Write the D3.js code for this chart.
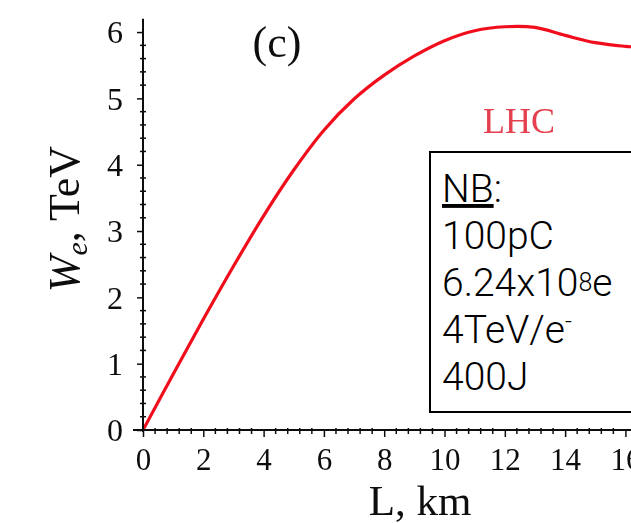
<!DOCTYPE html>
<html>
<head>
<meta charset="utf-8">
<script src="https://cdn.jsdelivr.net/npm/d3@7"></script>
<style>
  html, body { margin: 0; padding: 0; background: #fff; overflow: hidden; }
  svg { display: block; }
</style>
</head>
<body>
<svg id="chart" width="631" height="523"></svg>
<script>
// Accelerated electron energy vs. plasma length (LHC driver)
const distanceKm = [0, 1, 2, 3, 4, 5, 6, 7, 8, 9, 10, 11, 12, 13, 14, 15, 16, 16.5];
const energyTeV  = [0, 0.84, 1.67, 2.47, 3.23, 3.92, 4.52, 4.99, 5.35, 5.64, 5.87, 6.02, 6.08, 6.07, 5.95, 5.84, 5.785, 5.77];

const xTicks = [0, 2, 4, 6, 8, 10, 12, 14, 16];
const yTicks = [0, 1, 2, 3, 4, 5, 6];

const noteLines = ["NB:", "100pC", "6.24x10⁸e", "4TeV/e⁻", "400J"];

const svg = d3.select("#chart");
const W = 631, H = 523;

const x = d3.scaleLinear().domain([0, 16.5]).range([143, 640.5]);
const y = d3.scaleLinear().domain([0, 6.2]).range([430, 18.8]);

const defs = svg.append("defs");
defs.append("filter").attr("id", "soft")
  .attr("x", "-5%").attr("y", "-5%").attr("width", "110%").attr("height", "110%")
  .append("feGaussianBlur").attr("stdDeviation", 0.7);
defs.append("clipPath").attr("id", "plotClip")
  .append("rect").attr("x", 143).attr("y", 0).attr("width", W - 143).attr("height", 431);

const serif = "'Liberation Serif', 'Times New Roman', serif";
const ink = "#111";
const plot = svg.append("g").attr("filter", "url(#soft)");

// red curve
const line = d3.line()
  .x((d, i) => x(distanceKm[i]))
  .y(d => y(d))
  .curve(d3.curveCatmullRom.alpha(0.5));

plot.append("path")
  .datum(energyTeV)
  .attr("clip-path", "url(#plotClip)")
  .attr("d", line)
  .attr("fill", "none")
  .attr("stroke", "#f0101e")
  .attr("stroke-width", 3.2);

// x axis
const xAxis = plot.append("g").attr("transform", `translate(0,${y(0)})`)
  .call(d3.axisBottom(x).tickValues(xTicks).tickFormat(d3.format("d")).tickSizeInner(7).tickSizeOuter(0).tickPadding(11));
xAxis.select(".domain").attr("d", `M${x(0) - 10},0H${W + 5}`).attr("stroke", ink).attr("stroke-width", 2);
xAxis.selectAll(".tick line").attr("stroke", ink).attr("stroke-width", 1.5);
xAxis.selectAll(".tick text").attr("font-family", serif).attr("font-size", 31).attr("fill", ink);

const xMinor = d3.range(0, 16.5, 0.4).filter(v => Math.abs(v / 2 - Math.round(v / 2)) > 1e-6);
xAxis.selectAll(".minor").data(xMinor).enter().append("line")
  .attr("x1", d => x(d)).attr("x2", d => x(d))
  .attr("y1", -2).attr("y2", 4)
  .attr("stroke", ink).attr("stroke-width", 1.5);

// y axis
const yAxis = plot.append("g").attr("transform", `translate(${x(0)},0)`)
  .call(d3.axisLeft(y).tickValues(yTicks).tickFormat(d3.format("d")).tickSizeInner(6).tickSizeOuter(0).tickPadding(14));
yAxis.select(".domain").attr("d", `M0,${y(0) + 2}V${y(6.2)}`).attr("stroke", ink).attr("stroke-width", 2);
yAxis.selectAll(".tick line").attr("stroke", ink).attr("stroke-width", 1.5);
yAxis.selectAll(".tick text").attr("font-family", serif).attr("font-size", 32).attr("fill", ink).attr("dy", "0.34em");

const yMinor = d3.range(0, 6.2, 0.2).filter(v => Math.abs(v - Math.round(v)) > 1e-6);
yAxis.selectAll(".minor").data(yMinor).enter().append("line")
  .attr("y1", d => y(d)).attr("y2", d => y(d))
  .attr("x1", -3).attr("x2", 3)
  .attr("stroke", ink).attr("stroke-width", 1.5);

// axis titles
plot.append("text")
  .attr("x", 420).attr("y", 515)
  .attr("text-anchor", "middle")
  .attr("font-family", serif).attr("font-size", 43).attr("fill", ink)
  .text("L, km");

const yTitle = plot.append("text")
  .attr("transform", "translate(79,219) rotate(-90)")
  .attr("text-anchor", "middle")
  .attr("font-family", serif).attr("font-size", 44).attr("fill", ink);
yTitle.append("tspan").attr("font-style", "italic").text("W");
yTitle.append("tspan").attr("font-style", "italic").attr("font-size", 30).attr("dy", 8).text("e");
yTitle.append("tspan").attr("dy", -8).text(", TeV");

// panel tag and curve label
plot.append("text")
  .attr("x", 277).attr("y", 57)
  .attr("text-anchor", "middle")
  .attr("font-family", serif).attr("font-size", 44).attr("fill", ink)
  .text("(c)");

plot.append("text")
  .attr("x", 519).attr("y", 133)
  .attr("text-anchor", "middle")
  .attr("font-family", serif).attr("font-size", 36).attr("fill", "#e5404f")
  .text("LHC");

// note box
const box = svg.append("g");
box.append("rect")
  .attr("x", 430).attr("y", 152)
  .attr("width", 260).attr("height", 260)
  .attr("fill", "#fff").attr("stroke", "#000").attr("stroke-width", 2);

const sans = "Roboto, 'Liberation Sans', Helvetica, Arial, sans-serif";
const noteText = box.append("text")
  .attr("font-family", sans).attr("font-weight", 300).attr("font-size", 39).attr("fill", "#000");

const baseY = 202, lineGap = 47;
noteLines.forEach((txt, i) => {
  const t = noteText.append("tspan").attr("x", 442).attr("y", baseY + i * lineGap);
  if (i === 0) {
    t.append("tspan").attr("text-decoration", "underline").text(txt.slice(0, 2));
    t.append("tspan").text(txt.slice(2));
  } else if (txt.includes("⁸")) {
    const [a, b] = txt.split("⁸");
    t.append("tspan").text(a);
    t.append("tspan").attr("font-size", 25).attr("dy", -5).text("8");
    t.append("tspan").attr("dy", 5).text(b);
  } else if (txt.includes("⁻")) {
    const a = txt.replace("⁻", "");
    t.append("tspan").text(a);
    t.append("tspan").attr("font-size", 24).attr("dy", -14).text("-");
  } else {
    t.text(txt);
  }
});
</script>
</body>
</html>
